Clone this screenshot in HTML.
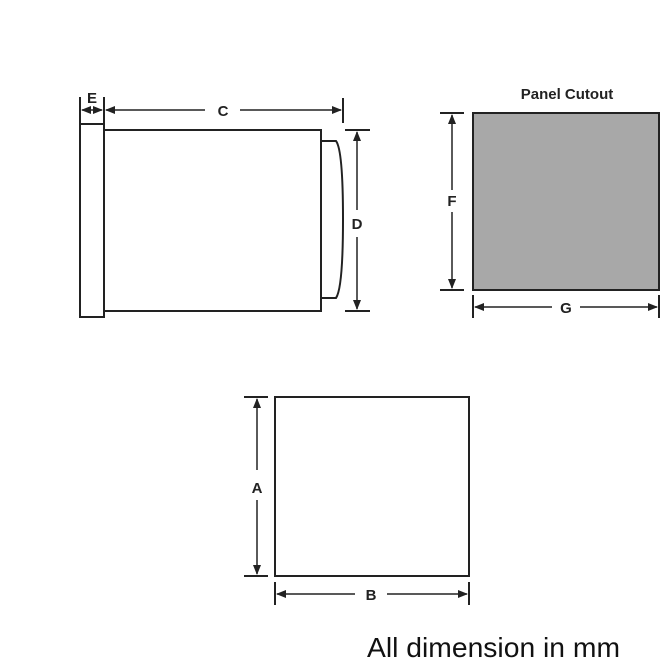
<!DOCTYPE html>
<html><head><meta charset="utf-8"><style>html,body{margin:0;padding:0;background:#fff}svg{display:block}</style></head>
<body>
<svg width="670" height="670" viewBox="0 0 670 670" xmlns="http://www.w3.org/2000/svg">
<defs>
<marker id="a" markerWidth="10" markerHeight="8" refX="9" refY="4" orient="auto" markerUnits="userSpaceOnUse">
<path d="M0,0 L10,4 L0,8 z" fill="#222"/></marker>
</defs>
<g stroke="#222" stroke-width="2" fill="none">
<rect x="80" y="124" width="24" height="193" fill="#fff"/>
<rect x="104" y="130" width="217" height="181" fill="#fff"/>
<path d="M321,141 L336,141 Q343,150 343,219 Q343,288 336,298 L321,298"/>
<line x1="80" y1="97" x2="80" y2="124"/>
<line x1="104" y1="97" x2="104" y2="124"/>
<line x1="343" y1="98" x2="343" y2="123"/>
<line x1="92" y1="110" x2="82" y2="110" marker-end="url(#a)" stroke-width="1.5"/>
<line x1="92" y1="110" x2="102" y2="110" marker-end="url(#a)" stroke-width="1.5"/>
<line x1="205" y1="110" x2="106" y2="110" marker-end="url(#a)" stroke-width="1.5"/>
<line x1="240" y1="110" x2="341" y2="110" marker-end="url(#a)" stroke-width="1.5"/>
<line x1="345" y1="130" x2="370" y2="130"/>
<line x1="345" y1="311" x2="370" y2="311"/>
<line x1="357" y1="210" x2="357" y2="132" marker-end="url(#a)" stroke-width="1.5"/>
<line x1="357" y1="237" x2="357" y2="309" marker-end="url(#a)" stroke-width="1.5"/>
<rect x="473" y="113" width="186" height="177" fill="#a8a8a8"/>
<line x1="440" y1="113" x2="464" y2="113"/>
<line x1="440" y1="290" x2="464" y2="290"/>
<line x1="452" y1="190" x2="452" y2="115" marker-end="url(#a)" stroke-width="1.5"/>
<line x1="452" y1="212" x2="452" y2="288" marker-end="url(#a)" stroke-width="1.5"/>
<line x1="473" y1="295" x2="473" y2="318"/>
<line x1="659" y1="295" x2="659" y2="318"/>
<line x1="552" y1="307" x2="475" y2="307" marker-end="url(#a)" stroke-width="1.5"/>
<line x1="580" y1="307" x2="657" y2="307" marker-end="url(#a)" stroke-width="1.5"/>
<rect x="275" y="397" width="194" height="179" fill="#fff"/>
<line x1="244" y1="397" x2="268" y2="397"/>
<line x1="244" y1="576" x2="268" y2="576"/>
<line x1="257" y1="470" x2="257" y2="399" marker-end="url(#a)" stroke-width="1.5"/>
<line x1="257" y1="500" x2="257" y2="574" marker-end="url(#a)" stroke-width="1.5"/>
<line x1="275" y1="582" x2="275" y2="605"/>
<line x1="469" y1="582" x2="469" y2="605"/>
<line x1="355" y1="594" x2="277" y2="594" marker-end="url(#a)" stroke-width="1.5"/>
<line x1="387" y1="594" x2="467" y2="594" marker-end="url(#a)" stroke-width="1.5"/>
</g>
<g font-family="Liberation Sans, sans-serif" font-weight="bold" font-size="15" fill="#222" text-anchor="middle">
<text x="92" y="103">E</text>
<text x="223" y="116">C</text>
<text x="357" y="229">D</text>
<text x="452" y="206">F</text>
<text x="566" y="313">G</text>
<text x="257" y="493">A</text>
<text x="371" y="600">B</text>
<text x="567" y="99" font-size="15">Panel Cutout</text>
</g>
<text x="367" y="657" font-family="Liberation Sans, sans-serif" font-size="28" fill="#111" textLength="253" lengthAdjust="spacingAndGlyphs">All dimension in mm</text>
</svg>
</body></html>
